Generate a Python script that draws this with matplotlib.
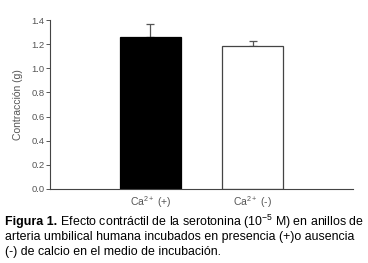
import matplotlib
matplotlib.use("Agg")
import matplotlib.pyplot as plt

categories = ["Ca$^{2+}$ (+)", "Ca$^{2+}$ (-)"]
values = [1.26, 1.185]
errors = [0.11, 0.045]
yticks = [0.0, 0.2, 0.4, 0.6, 0.8, 1.0, 1.2, 1.4]
ylabel = "Contracción (g)"
cap_bold = "Figura 1."
cap_line1 = " Efecto contráctil de la serotonina (10$^{-5}$ M) en anillos de"
cap_line2 = "arteria umbilical humana incubados en presencia (+)o ausencia"
cap_line3 = "(-) de calcio en el medio de incubación."

plt.rcParams['font.family'] = ['Liberation Sans', 'DejaVu Sans']
plt.rcParams['mathtext.fontset'] = 'custom'
plt.rcParams['mathtext.rm'] = 'Liberation Sans'
plt.rcParams['mathtext.it'] = 'Liberation Sans'

fig = plt.figure(figsize=(3.68, 2.63), dpi=100)
ax = fig.add_axes([50/368, 1-189/263, 303/368, 169/263])

gray = "#555555"
x = [0, 1]
colors = ["black", "white"]
edges = ["black", "#444444"]
for xi, v, e, c, ec in zip(x, values, errors, colors, edges):
    ax.bar(xi, v, width=0.6, color=c, edgecolor=ec, linewidth=0.9, zorder=2)
    ax.errorbar(xi, v, yerr=[[0], [e]], fmt='none', ecolor="#555555",
                elinewidth=0.9, capsize=3, capthick=0.9, zorder=1)

ax.set_xlim(-0.985, 1.985)
ax.set_ylim(0, 1.4)
ax.set_yticks(yticks)
ax.set_yticklabels([f"{t:.1f}" for t in yticks], color=gray, fontsize=6.8)
ax.set_xticks(x)
ax.set_xticklabels(categories, color=gray, fontsize=7.5)
ax.tick_params(axis='x', length=0, pad=4)
ax.tick_params(axis='y', length=3, width=0.7, color=gray, pad=1)
ax.set_ylabel(ylabel, color=gray, fontsize=7.5, labelpad=6)
for s in ["top", "right"]:
    ax.spines[s].set_visible(False)
for s in ["left", "bottom"]:
    ax.spines[s].set_color("#444444")
    ax.spines[s].set_linewidth(0.8)

fs = 8.9
t = fig.text(5/368, 1-222/263, cap_bold, fontsize=fs, fontweight='bold', va='center', ha='left')
fig.canvas.draw()
bb = t.get_window_extent()
fig.text(bb.x1/368, 1-222/263, cap_line1, fontsize=fs, va='center', ha='left')
fig.text(5/368, 1-237/263, cap_line2, fontsize=fs, va='center', ha='left')
fig.text(5/368, 1-252/263, cap_line3, fontsize=fs, va='center', ha='left')

fig.savefig("out.png", dpi=100)
